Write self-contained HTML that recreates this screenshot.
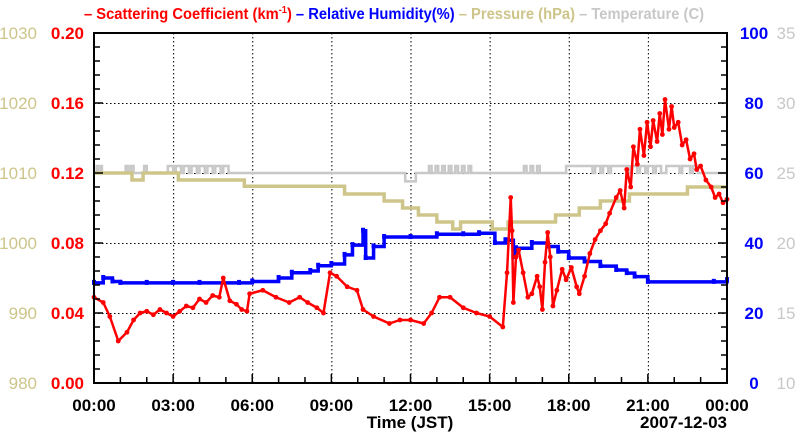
<!DOCTYPE html>
<html><head><meta charset="utf-8"><style>
html,body{margin:0;padding:0;background:#fff;width:800px;height:434px;overflow:hidden}
svg{display:block;font-family:"Liberation Sans",sans-serif}
</style></head><body>
<svg id="chart" width="800" height="434" viewBox="0 0 800 434"></svg>
<script>
// ---- data (hours since 00:00 JST) ----
const xTickLabels = ["00:00","03:00","06:00","09:00","12:00","15:00","18:00","21:00","00:00"];
const scatTicks = ["0.00","0.04","0.08","0.12","0.16","0.20"];
const presTicks = ["980","990","1000","1010","1020","1030"];
const rhTicks = ["0","20","40","60","80","100"];
const tempTicks = ["10","15","20","25","30","35"];

const scatTimes = [0,0.35,0.6,0.92,1.25,1.5,1.75,2.0,2.25,2.5,2.75,3.0,3.25,3.5,3.75,4.0,4.25,4.5,4.75,4.9,5.15,5.4,5.6,5.8,5.9,6.4,6.9,7.4,7.8,8.1,8.45,8.7,8.95,9.2,9.6,9.97,10.2,10.6,11.2,11.6,12.0,12.5,12.8,13.1,13.5,14.0,14.5,15.0,15.5,15.66,15.8,15.85,15.9,16.0,16.1,16.27,16.45,16.6,16.8,16.9,17.0,17.1,17.2,17.3,17.4,17.55,17.75,17.9,18.1,18.3,18.4,18.6,18.8,19.0,19.2,19.4,19.55,19.8,19.95,20.1,20.2,20.35,20.45,20.6,20.7,20.85,20.97,21.1,21.2,21.35,21.45,21.55,21.65,21.8,21.9,22.0,22.15,22.3,22.45,22.6,22.75,22.85,23.0,23.2,23.4,23.55,23.7,23.85,24.0];
const scatValues = [0.049,0.046,0.038,0.024,0.029,0.036,0.040,0.041,0.039,0.042,0.040,0.038,0.041,0.044,0.043,0.048,0.046,0.050,0.049,0.060,0.047,0.045,0.042,0.041,0.051,0.053,0.049,0.046,0.049,0.046,0.043,0.040,0.063,0.061,0.055,0.053,0.042,0.038,0.034,0.036,0.036,0.034,0.040,0.049,0.049,0.043,0.040,0.038,0.032,0.063,0.106,0.087,0.046,0.072,0.076,0.063,0.049,0.051,0.061,0.055,0.042,0.069,0.086,0.072,0.044,0.053,0.065,0.059,0.066,0.055,0.051,0.061,0.074,0.082,0.087,0.091,0.097,0.106,0.110,0.100,0.122,0.112,0.135,0.125,0.145,0.130,0.149,0.135,0.150,0.138,0.154,0.142,0.162,0.145,0.158,0.146,0.149,0.136,0.139,0.128,0.131,0.122,0.124,0.116,0.112,0.106,0.108,0.103,0.105];

const rhTimes = [0,0.35,0.7,1.0,2.0,3.0,4.0,5.5,6.0,7.0,7.5,8.2,8.5,9.0,9.5,9.8,10.2,10.3,10.6,11.0,12.0,13.0,14.0,14.6,15.2,15.6,15.9,16.0,16.6,17.2,17.6,18.0,18.6,19.2,19.8,20.2,20.5,21.0,23.5,24.0];
const rhValues = [28.6,30,29,28.6,28.6,28.6,28.6,28.6,29,30,31.5,32,33.5,34,36.6,39.4,43.5,35.7,39,41.7,41.7,42.5,42.5,42.8,40,40.8,36,38.5,40,39,37.5,35.7,34.7,33.4,32.3,31.4,30.4,28.9,28.9,29.4];

const presTimes = [0,1.44,1.86,3.2,5.7,9.5,11.0,11.7,12.3,13.0,13.6,13.9,15.1,15.7,17.5,18.4,19.2,20.3,22.5,24];
const presValues = [1010,1009,1010,1009,1008.1,1007,1006,1005,1004,1003,1002,1003,1002,1003,1004,1005,1006,1007,1008,1008];

const tempTimes = [0,0.1,0.15,0.25,0.3,1.2,1.3,1.4,1.5,1.9,2.0,2.8,3.0,3.1,3.3,3.4,3.6,3.7,3.9,4.0,4.2,4.3,4.5,4.6,4.8,4.9,5.1,5.2,11.8,12.2,12.7,12.8,12.95,13.05,13.2,13.3,13.45,13.55,13.7,13.8,13.95,14.05,14.2,14.3,16.3,16.4,16.55,16.65,16.8,16.9,17.9,18.9,19.0,19.2,19.3,19.5,19.6,20.3,20.4,20.6,20.7,20.9,21.0,21.2,21.3,21.5,21.7,22.2,22.3,22.6,22.7,22.9,23.0,24];
const tempValues = [25,25.5,25,25.5,25,25.5,25,25.5,25,25.5,25,25.5,25,25.5,25,25.5,25,25.5,25,25.5,25,25.5,25,25.5,25,25.5,25,25,24.4,25,25.5,25,25.5,25,25.5,25,25.5,25,25.5,25,25.5,25,25.5,25,25.5,25,25.5,25,25.5,25,25.5,25,25.5,25,25.5,25,25.5,25,25.5,25,25.5,25,25.5,25,25.5,25,25.5,25,25.5,25,25.5,25,25,25];

// ---- layout ----
const L=94,R=727,T=33,B=383;
const NS="http://www.w3.org/2000/svg";
const svg=document.getElementById('chart');
const xs=h=>L+(R-L)*h/24;
const yScat=v=>B-(B-T)*v/0.2;
const yRH=v=>B-(B-T)*v/100;
const yPres=v=>B-(B-T)*(v-980)/50;
const yTemp=v=>B-(B-T)*(v-10)/25;
function mk(tag,attrs,parent){const e=document.createElementNS(NS,tag);for(const k in attrs)e.setAttribute(k,attrs[k]);(parent||svg).appendChild(e);return e;}
function txt(s,x,y,fill,anchor,weight,name,size){const e=mk('text',{x:x,y:y,fill:fill,'text-anchor':anchor,'font-size':size||16,'font-weight':weight});e.textContent=s;


return e;}

// grid
const grid=mk('g',{stroke:'#000','stroke-width':1,'stroke-dasharray':'1.5,2.5'});


for(let i=1;i<8;i++){mk('line',{x1:xs(i*3)+0.5,x2:xs(i*3)+0.5,y1:T,y2:B},grid);}
for(let i=1;i<5;i++){const y=Math.round(yScat(i*0.04))+0.5;mk('line',{x1:L,x2:R,y1:y,y2:y},grid);}

// series
function stepPath(ts,vs,yf){let d='';for(let i=0;i<ts.length;i++){const x=xs(ts[i]),y=yf(vs[i]);if(i===0)d+='M'+x+','+y;else{d+='H'+x+'V'+y;}}return d;}
const temp=mk('path',{d:stepPath(tempTimes,tempValues,yTemp),fill:'none',stroke:'#c8c8c8','stroke-width':2.5});


const pres=mk('path',{d:stepPath(presTimes,presValues,yPres),fill:'none',stroke:'#cdc58a','stroke-width':3.5});


const rh=mk('path',{d:stepPath(rhTimes,rhValues,yRH),fill:'none',stroke:'#0000ff','stroke-width':3.5});


const rhPts=mk('g',{fill:'#0000ff'});


rhTimes.forEach((t,i)=>{mk('rect',{x:xs(t)-2,y:yRH(rhValues[i])-3,width:4,height:5},rhPts);});

let sd='';scatTimes.forEach((t,i)=>{sd+=(i?'L':'M')+xs(t)+','+yScat(scatValues[i]);});
const scat=mk('path',{d:sd,fill:'none',stroke:'#ff0000','stroke-width':2.5,'stroke-linejoin':'round'});


const scPts=mk('g',{fill:'#ff0000'});


scatTimes.forEach((t,i)=>{mk('circle',{cx:xs(t),cy:yScat(scatValues[i]),r:2.4},scPts);});

// frame & ticks
const frame=mk('rect',{x:L,y:T,width:R-L,height:B-T,fill:'none',stroke:'#000','stroke-width':2});


const ticks=mk('g',{stroke:'#000','stroke-width':1.5});


for(let i=0;i<=24;i++){const x=xs(i),len=i%3===0?9:6;mk('line',{x1:x,x2:x,y1:B,y2:B-len},ticks);}
for(let i=0;i<=25;i++){const y=B-(B-T)*i/25,len=i%5===0?9:6;mk('line',{x1:L,x2:L+len,y1:y,y2:y},ticks);mk('line',{x1:R,x2:R-len,y1:y,y2:y},ticks);}

// labels
xTickLabels.forEach((s,i)=>txt(s,xs(i*3),411,'#000','middle','bold','x-tick-label',17));
scatTicks.forEach((s,i)=>txt(s,84,yScat(i*0.04)+6,'#ff0000','end','bold','scattering-tick-label',17));
presTicks.forEach((s,i)=>txt(s,37,yPres(980+i*10)+6,'#cdc58a','end','normal','pressure-tick-label',17));
rhTicks.forEach((s,i)=>txt(s,754,yRH(i*20)+6,'#0000ff','middle','bold','humidity-tick-label',17));
tempTicks.forEach((s,i)=>txt(s,786,yTemp(10+i*5)+6,'#c8c8c8','middle','normal','temperature-tick-label',17));
txt('Time (JST)',410,428,'#000','middle','bold','x-axis-title',17);
txt('2007-12-03',727,428,'#000','end','bold','date-label',17);

// legend title
const lg=mk('text',{x:84,y:19,'text-anchor':'start','font-size':16,'font-weight':'bold',textLength:620,lengthAdjust:'spacingAndGlyphs'});


lg.innerHTML='<tspan fill="#ff0000">– Scattering Coefficient (km<tspan font-size="10" dy="-6">-1</tspan><tspan dy="6">)</tspan></tspan><tspan fill="#0000ff"> – Relative Humidity(%)</tspan><tspan fill="#cdc58a"> – Pressure (hPa)</tspan><tspan fill="#c8c8c8"> – Temperature (C)</tspan>';
</script>
</body></html>
